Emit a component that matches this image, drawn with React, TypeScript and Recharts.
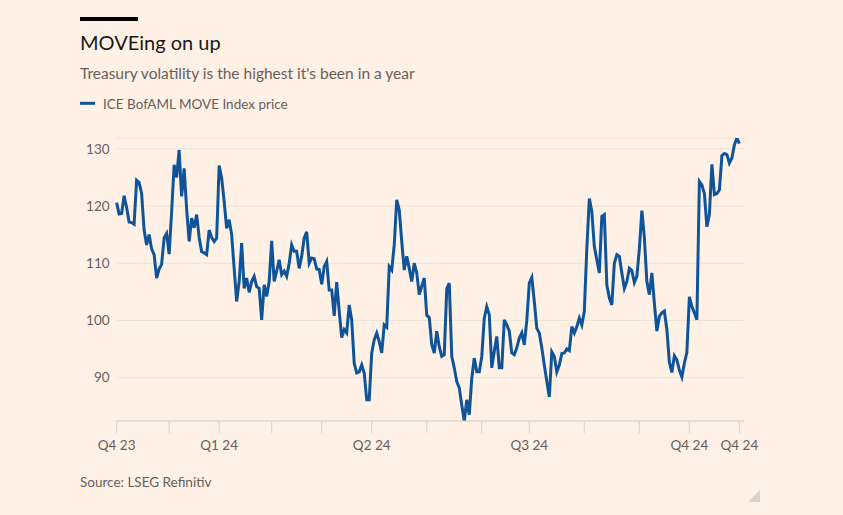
import React from 'react';
import { LineChart, Line, XAxis, YAxis, CartesianGrid } from 'recharts';

// ICE BofAML MOVE Index, one value per trading day (Nov 2023 – Oct 2024)
const moveValues: number[] = [
  120.6, 118.6, 118.7, 121.8, 119.8, 117.2, 117.1, 116.8, 124.5, 124.1,
  122.2, 115.8, 113.2, 115.0, 112.5, 111.5, 107.4, 109.0, 109.8, 114.4,
  115.2, 111.6, 119.0, 127.2, 125.0, 129.8, 121.7, 126.6, 119.5, 113.8,
  117.9, 116.2, 118.5, 114.5, 112.0, 111.8, 111.5, 115.8, 114.5, 113.8,
  114.4, 127.1, 124.9, 120.8, 116.1, 117.6, 115.0, 109.1, 103.3, 106.8,
  113.5, 105.6, 107.4, 104.9, 106.8, 107.7, 105.9, 105.6, 100.1, 106.2,
  104.2, 106.8, 113.9, 106.8, 108.6, 110.6, 108.0, 108.6, 107.7, 110.0,
  113.2, 112.1, 112.1, 109.1, 111.2, 114.4, 115.5, 110.0, 110.9, 110.8,
  109.0, 108.9, 106.3, 109.4, 110.3, 105.3, 105.3, 100.8, 106.7, 101.6,
  97.0, 98.4, 97.8, 102.7, 100.1, 92.5, 90.8, 91.0, 92.2, 90.8,
  86.1, 86.1, 94.3, 96.6, 97.8, 96.3, 94.3, 99.2, 98.8, 109.4,
  108.8, 113.2, 121.1, 119.3, 113.8, 108.8, 111.2, 109.1, 106.8, 110.0,
  108.3, 104.5, 106.0, 107.4, 100.9, 100.5, 95.8, 94.3, 98.1, 95.4,
  93.7, 94.0, 105.5, 106.5, 93.7, 91.7, 89.3, 88.2, 85.2, 82.4,
  86.1, 83.5, 89.9, 93.4, 91.0, 91.0, 93.7, 100.4, 102.4, 101.0,
  91.7, 94.6, 97.2, 91.7, 91.7, 100.1, 99.2, 98.1, 94.3, 94.0,
  95.2, 96.9, 97.8, 95.7, 100.0, 106.5, 107.5, 103.3, 98.6, 97.8,
  95.2, 92.2, 89.3, 86.6, 94.5, 93.7, 91.0, 92.2, 94.2, 94.3,
  95.0, 94.7, 98.9, 97.8, 98.9, 100.4, 99.2, 101.6, 112.6, 121.3,
  119.0, 112.9, 110.6, 108.3, 118.2, 118.5, 106.2, 103.9, 102.7, 110.0,
  111.5, 111.2, 108.3, 105.6, 106.8, 109.1, 108.7, 106.6, 107.7, 112.5,
  119.2, 114.5, 106.8, 104.5, 108.3, 103.0, 98.1, 100.7, 101.3, 101.6,
  98.4, 92.7, 90.9, 93.8, 93.1, 91.3, 90.1, 92.5, 94.4, 104.1,
  102.4, 101.3, 100.1, 124.3, 123.7, 122.2, 116.4, 118.5, 127.3, 122.0,
  122.2, 122.8, 128.8, 129.2, 129.0, 127.5, 128.4, 130.7, 131.9, 130.9,
];

// trading-day index of each month start, and the label shown there
const monthTickIndex: number[] = [0, 21, 41, 62, 82, 102, 124, 146, 165, 187, 209, 229, 249];
const monthTickLabels: string[] = ['Q4 23', '', 'Q1 24', '', '', 'Q2 24', '', '', 'Q3 24', '', '', 'Q4 24', 'Q4 24'];
const yTicks: number[] = [90, 100, 110, 120, 130];

const data = moveValues.map((v, i) => ({ i, v }));

const FONT = 'Lato, "Open Sans", sans-serif';
const GREY = '#66605C';
const BLUE = '#0F5499';

export default function App() {
  const labelFor = (value: number) => {
    const k = monthTickIndex.indexOf(value);
    return k >= 0 ? monthTickLabels[k] : '';
  };
  return (
    <div
      style={{
        position: 'absolute',
        left: 0,
        top: 0,
        width: 843,
        height: 515,
        background: '#FFF1E5',
        overflow: 'hidden',
        fontFamily: FONT,
      }}
    >
      <svg width={843} height={515} style={{ position: 'absolute', left: 0, top: 0 }}>
        <rect x={80} y={17} width={58} height={4} fill="#000" />
        <text x={80} y={49.5} fontSize={20} fill="#1A1817" fontFamily={FONT}>
          MOVEing on up
        </text>
        <text x={80} y={79} fontSize={15.5} fill={GREY} fontFamily={FONT}>
          Treasury volatility is the highest it's been in a year
        </text>
        <line x1={80} x2={95} y1={103.3} y2={103.3} stroke={BLUE} strokeWidth={3} />
        <text x={103} y={109} fontSize={13.5} fill={GREY} fontFamily={FONT}>
          ICE BofAML MOVE Index price
        </text>
        <text x={80} y={486.7} fontSize={13.5} fill={GREY} fontFamily={FONT}>
          Source: LSEG Refinitiv
        </text>
        <polygon points="760,490 760,502 748,502" fill="#D9D1CA" />
      </svg>
      <div style={{ position: 'absolute', left: 0, top: 0 }}>
        <LineChart
          width={843}
          height={515}
          data={data}
          margin={{ top: 138, right: 99, bottom: 64, left: 76.6 }}
        >
          <CartesianGrid horizontal vertical={false} stroke="#EDE2D8" strokeWidth={1} />
          <XAxis
            dataKey="i"
            type="number"
            domain={[0, 249]}
            ticks={monthTickIndex}
            tickFormatter={labelFor}
            interval={0}
            height={30}
            padding={{ left: 0, right: 4.6 }}
            axisLine={{ stroke: '#D9D1CA' }}
            tickLine={{ stroke: '#D9D1CA' }}
            tickSize={12}
            tickMargin={7}
            tick={{ fill: GREY, fontSize: 13.5, fontFamily: FONT }}
          />
          <YAxis
            type="number"
            domain={[82.4, 131.9]}
            allowDataOverflow
            ticks={yTicks}
            width={40}
            axisLine={false}
            tickLine={false}
            tickSize={0}
            tickMargin={7}
            tick={{ fill: GREY, fontSize: 13.5, fontFamily: FONT }}
          />
          <Line
            type="linear"
            dataKey="v"
            stroke={BLUE}
            strokeWidth={3}
            dot={false}
            activeDot={false}
            isAnimationActive={false}
          />
        </LineChart>
      </div>
    </div>
  );
}
